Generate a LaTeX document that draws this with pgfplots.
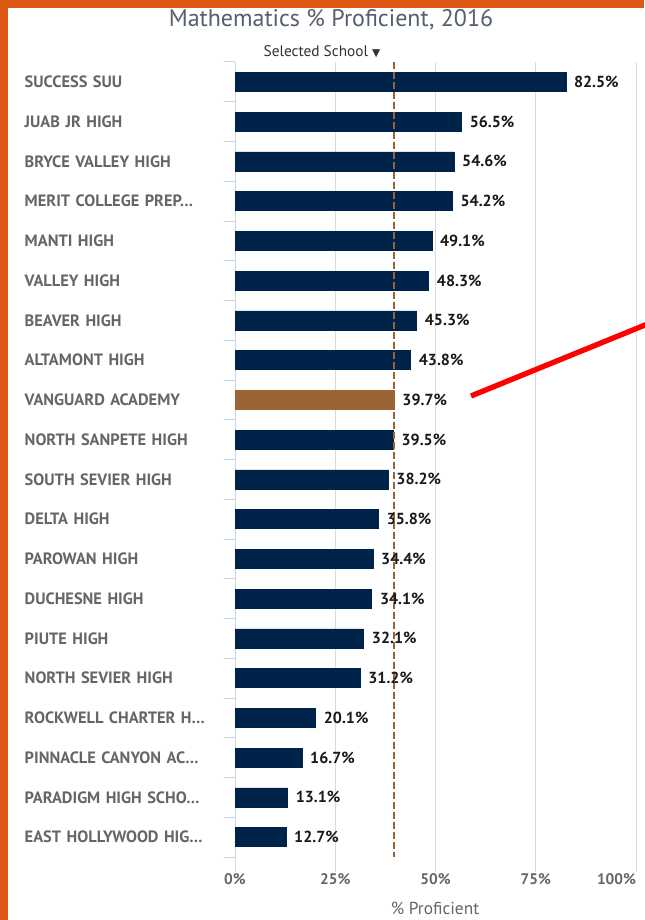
\documentclass[border=0pt]{standalone}
\usepackage{pgfplots}
\pgfplotsset{compat=1.18}
\usepackage{fontspec}
\setmainfont{PT Sans}
\newfontfamily\symfont{DejaVu Sans}

\definecolor{navy}{RGB}{0,35,73}
\definecolor{vbrown}{RGB}{154,101,53}
\definecolor{framecol}{RGB}{222,88,22}
\definecolor{gridgrey}{RGB}{218,218,218}
\definecolor{axisblue}{RGB}{200,212,226}
\definecolor{labgrey}{RGB}{102,102,102}
\definecolor{titlegrey}{RGB}{85,95,112}

\begin{document}
\begin{tikzpicture}[x=0.75pt, y=0.75pt]
% page = 644 x 920 px, 1px = 0.75pt
\useasboundingbox (0,0) rectangle (644,920);
\fill[framecol] (0,0) rectangle (644,920);
\fill[white] (8,0) rectangle (644,912);

\node[text=titlegrey, font=\fontsize{18}{21}\selectfont] at (331,900) {Mathematics \% Proficient, 2016};
\node[text=black!80, font=\fontsize{11.5}{14}\selectfont] at (322,868) {Selected School {\symfont\fontsize{8}{9}\selectfont ▼}};
\node[text=labgrey, font=\fontsize{13}{15}\selectfont] at (435,12) {\% Proficient};

\begin{axis}[
    at={(176.25pt,47.25pt)}, anchor=south west,
    scale only axis, width=300.75pt, height=596.25pt,
    xbar, bar shift=0pt, bar width=14.25pt,
    xmin=0, xmax=100, ymin=-0.5, ymax=19.5, y dir=reverse,
    axis lines*=left, axis line style={-},
    x axis line style={draw=none},
    y axis line style={draw=axisblue, line width=0.75pt},
    tick align=outside,
    major tick length=11.25pt, minor tick length=8.25pt,
    xtick={0,25,50,75,100},
    xticklabels={0\%,25\%,50\%,75\%,\llap{100\%}},
    xtick style={draw=gridgrey, line width=0.75pt},
    xticklabel style={font=\bfseries\fontsize{11.5}{13}\selectfont, text=labgrey, inner sep=0pt, yshift=-1pt},
    xmajorgrids, grid style={draw=gridgrey, line width=0.75pt},
    ytick={0,...,19},
    ytick style={draw=none},
    minor ytick={-0.5,0.5,...,19.5},
    minor y tick style={draw=axisblue, line width=0.75pt},
    yticklabels={SUCCESS SUU, JUAB JR HIGH, BRYCE VALLEY HIGH, MERIT COLLEGE PREP…,
        MANTI HIGH, VALLEY HIGH, BEAVER HIGH, ALTAMONT HIGH, VANGUARD ACADEMY,
        NORTH SANPETE HIGH, SOUTH SEVIER HIGH, DELTA HIGH, PAROWAN HIGH,
        DUCHESNE HIGH, PIUTE HIGH, NORTH SEVIER HIGH, ROCKWELL CHARTER H…,
        PINNACLE CANYON AC…, PARADIGM HIGH SCHO…, EAST HOLLYWOOD HIG…},
    yticklabel style={font=\bfseries\fontsize{12.3}{14}\selectfont, text=labgrey,
        inner sep=0pt, text width=146.25pt, align=left},
    point meta=x,
    nodes near coords={\pgfmathprintnumber[fixed,fixed zerofill,precision=1]{\pgfplotspointmeta}\%},
    nodes near coords style={anchor=west, inner sep=0pt, xshift=6pt,
        font=\bfseries\fontsize{12}{14}\selectfont, text=black!90,
        /pgf/number format/assume math mode=true},
    clip=false,
]
\addplot[fill=navy, draw=navy] coordinates {
    (82.5,0) (56.5,1) (54.6,2) (54.2,3) (49.1,4) (48.3,5) (45.3,6) (43.8,7)
    (39.5,9) (38.2,10) (35.8,11) (34.4,12) (34.1,13) (32.1,14) (31.2,15)
    (20.1,16) (16.7,17) (13.1,18) (12.7,19)
};
\addplot[fill=vbrown, draw=vbrown] coordinates {(39.7,8)};
\draw[vbrown, line width=1.9pt, dash pattern=on 5pt off 2.5pt]
    (axis cs:39.7,-0.5) -- (axis cs:39.7,19.5);
\end{axis}

\draw[red, line width=4pt] (471,524) -- (650,597);
\end{tikzpicture}
\end{document}
